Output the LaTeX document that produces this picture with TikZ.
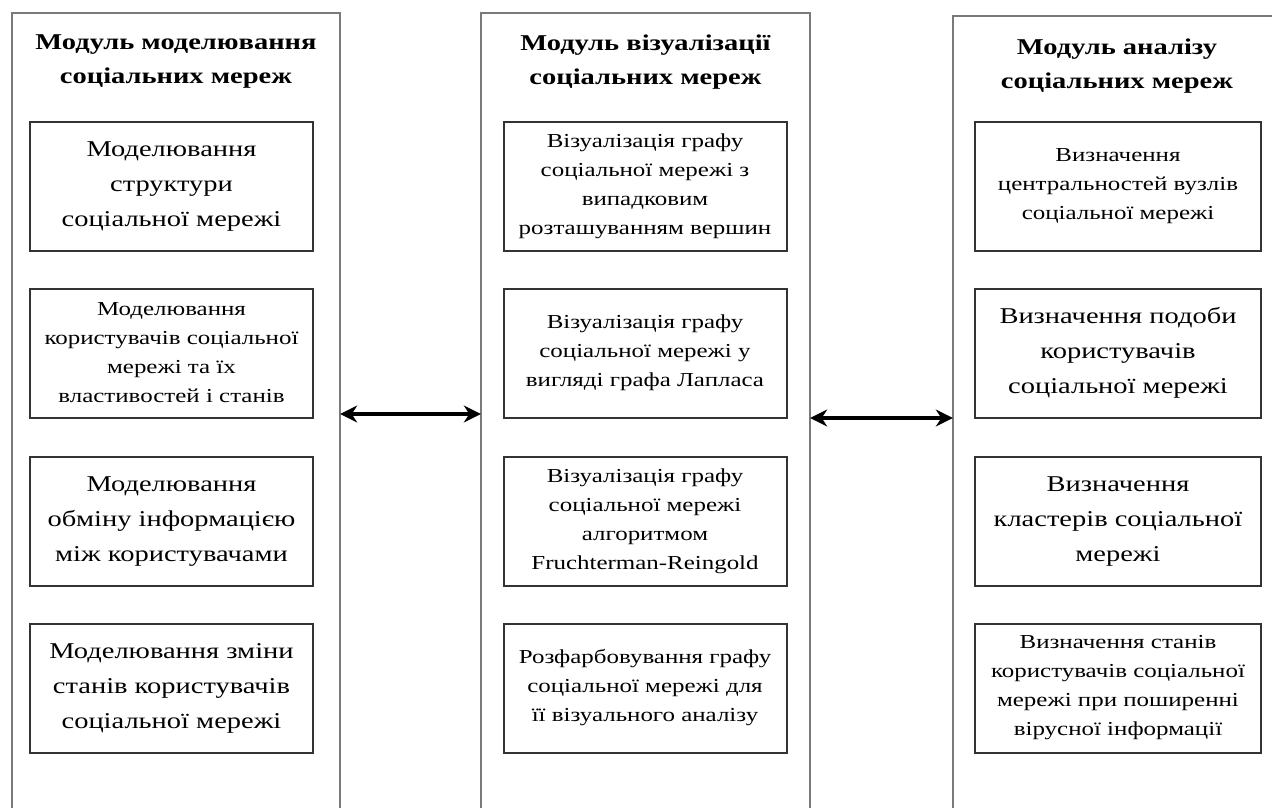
\documentclass[tikz,border=0pt]{standalone}
\usepackage{fontspec}
\setmainfont{Liberation Serif}[FakeStretch=1.26]
\usetikzlibrary{arrows.meta}
\definecolor{modgray}{HTML}{7A7A7A}
\definecolor{boxgray}{HTML}{333333}
\begin{document}
\begin{tikzpicture}[x=1pt,y=-1pt,
  module/.style={draw=none, inner sep=0pt, minimum height=830pt},
  modline/.style={draw=modgray, line width=2pt},
  head/.style={align=center, inner sep=0pt, font=\bfseries\fontsize{22.6}{34}\selectfont},
  block/.style={draw=boxgray, line width=2pt, align=center, inner sep=0pt,
    minimum width=283pt, minimum height=129pt},
  big/.style={font=\fontsize{22.6}{35}\selectfont},
  small/.style={font=\fontsize{19.8}{29}\selectfont},
  biarrow/.style={line width=4.5pt, {Stealth[length=17pt,width=17pt]}-{Stealth[length=17pt,width=17pt]}}
]
\useasboundingbox (0,0) rectangle (1272,807);
\clip (0,0) rectangle (1272,807);

% module frames (open at the bottom)
\node[module, minimum width=328pt] (c1) at (176,428) {};
\node[module, minimum width=329pt] (c2) at (645.5,428) {};
\node[module, minimum width=340pt] (c3) at (1123,431) {};
\foreach \c in {c1,c2,c3}
  \draw[modline] (\c.south west) -- (\c.north west) -- (\c.north east) -- (\c.south east);

% module titles
\node[head] (h1) at (176,62) {Модуль моделювання\\соціальних мереж};
\node[head] (h2) at (645.5,62) {Модуль візуалізації\\соціальних мереж};
\node[head] (h3) at (1117,66) {Модуль аналізу\\соціальних мереж};

% modelling blocks
\node[block, big]   (l1) at (171.5,186.5) {Моделювання\\структури\\соціальної мережі};
\node[block, small] (l2) at (171.5,353)   {Моделювання\\користувачів соціальної\\мережі та їх\\властивостей і станів};
\node[block, big]   (l3) at (171.5,521.5) {Моделювання\\обміну інформацією\\між користувачами};
\node[block, big]   (l4) at (171.5,688)   {Моделювання зміни\\станів користувачів\\соціальної мережі};

% visualisation blocks
\node[block, small] (m1) at (645,186.5) {Візуалізація графу\\соціальної мережі з\\випадковим\\розташуванням вершин};
\node[block, small] (m2) at (645,353)   {Візуалізація графу\\соціальної мережі у\\вигляді графа Лапласа};
\node[block, small] (m3) at (645,521.5) {Візуалізація графу\\соціальної мережі\\алгоритмом\\Fruchterman-Reingold};
\node[block, small] (m4) at (645,688)   {Розфарбовування графу\\соціальної мережі для\\її візуального аналізу};

% analysis blocks
\node[block, small, minimum width=286pt] (r1) at (1118,186.5) {Визначення\\центральностей вузлів\\соціальної мережі};
\node[block, big,   minimum width=286pt] (r2) at (1118,353)   {Визначення подоби\\користувачів\\соціальної мережі};
\node[block, big,   minimum width=286pt] (r3) at (1118,521.5) {Визначення\\кластерів соціальної\\мережі};
\node[block, small, minimum width=286pt] (r4) at (1118,688)   {Визначення станів\\користувачів соціальної\\мережі при поширенні\\вірусної інформації};

% links between modules
\coordinate (y1) at (0,414);
\coordinate (y2) at (0,418);
\draw[biarrow] (c1.east |- y1) -- (c2.west |- y1);
\draw[biarrow] (c2.east |- y2) -- (c3.west |- y2);
\end{tikzpicture}
\end{document}
